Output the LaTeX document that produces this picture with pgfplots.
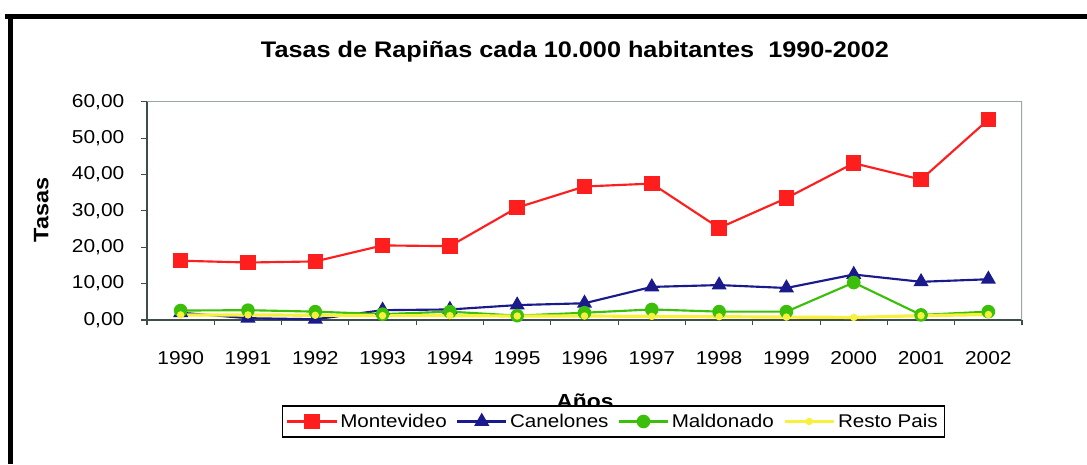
\documentclass[border=0pt]{standalone}
\usepackage{fontspec}
\setmainfont{Liberation Sans}[FakeStretch=1.12]
\usepackage{pgfplots}
\pgfplotsset{compat=1.18}
\definecolor{cMvd}{HTML}{FF1E1E}
\definecolor{cCan}{HTML}{1A1A8C}
\definecolor{cMal}{HTML}{3CBF0A}
\definecolor{cRes}{HTML}{F7F03C}
\definecolor{cFrame}{HTML}{9AA6A6}
\definecolor{cAxis}{HTML}{3E4C4C}

\begin{document}
\begin{tikzpicture}
  \useasboundingbox (0,0) rectangle (815.25pt,348pt);
  % outer frame (only top and left visible)
  \draw[line width=3.75pt] (3.75pt,335.6pt) -- (815.25pt,335.6pt);
  \draw[line width=3.75pt] (7.9pt,337.5pt) -- (7.9pt,0pt);

  \node[font=\bfseries\fontsize{16.9}{20}\selectfont] at (431.25pt,309pt)
    {Tasas de Rapiñas cada 10.000 habitantes\ \ 1990-2002};
  \node[font=\bfseries\fontsize{15.7}{18}\selectfont, rotate=90] at (31pt,190.5pt) {Tasas};
  \node[font=\bfseries\fontsize{15.3}{18}\selectfont, anchor=base] at (438.75pt,42pt) {Años};

  \begin{axis}[
      at={(110.25pt,108pt)}, anchor=south west,
      width=656.25pt, height=163.7pt, scale only axis,
      xmin=-0.5, xmax=12.5, ymin=0, ymax=60,
      xtick={0,...,12},
      xticklabels={1990,1991,1992,1993,1994,1995,1996,1997,1998,1999,2000,2001,2002},
      major x tick style={draw=none},
      minor xtick={-0.5,0.5,...,12.5},
      minor tick length=4pt,
      major tick length=4.5pt,
      tick align=outside,
      ytick={0,10,...,60},
      axis x line*=bottom, axis y line*=left,
      axis line style={cAxis, line width=0.9pt},
      tick style={cAxis, line width=0.8pt},
      /pgf/number format/.cd, fixed, fixed zerofill, precision=2, use comma,
      1000 sep={}, assume math mode=true,
      /pgfplots/.cd,
      ticklabel style={font=\fontsize{14}{16}\selectfont},
      xticklabel style={anchor=base, yshift=-29pt},
      yticklabel style={anchor=east, xshift=-9pt},
      legend style={at={(rel axis cs:0.533,-0.465)}, anchor=center,
        legend columns=4, draw=black, line width=1.2pt, fill=white,
        font=\fontsize{13.8}{16}\selectfont, inner xsep=3pt, inner ysep=4pt,
        nodes={inner sep=2pt},
        /tikz/every even column/.append style={column sep=5pt}},
      legend image code/.code={
        \draw[mark repeat=2,mark phase=2]
          plot coordinates {(0pt,0pt) (18.4pt,0pt) (36.8pt,0pt)};},
    ]
    \draw[cFrame, line width=0.9pt] (rel axis cs:0,1) -- (rel axis cs:1,1) -- (rel axis cs:1,0);

    \addplot[cMvd, line width=1.6pt, mark=square*, mark size=5pt] coordinates {
      (0,16.3) (1,15.8) (2,16.1) (3,20.5) (4,20.3) (5,30.9) (6,36.7)
      (7,37.5) (8,25.3) (9,33.5) (10,43.1) (11,38.6) (12,55.1)};
    \addlegendentry{Montevideo}
    \addplot[cCan, line width=1.6pt, mark=triangle*, mark size=5pt] coordinates {
      (0,2.0) (1,0.5) (2,0.2) (3,2.7) (4,2.9) (5,4.1) (6,4.6)
      (7,9.1) (8,9.6) (9,8.8) (10,12.5) (11,10.5) (12,11.2)};
    \addlegendentry{Canelones}
    \addplot[cMal, line width=1.6pt, mark=*, mark size=4.3pt] coordinates {
      (0,2.6) (1,2.7) (2,2.3) (3,1.6) (4,2.3) (5,1.2) (6,2.0)
      (7,2.9) (8,2.3) (9,2.3) (10,10.3) (11,1.4) (12,2.3)};
    \addlegendentry{Maldonado}
    \addplot[cRes, line width=2.4pt, mark=*, mark size=1.5pt] coordinates {
      (0,1.4) (1,1.4) (2,1.3) (3,1.2) (4,1.2) (5,1.1) (6,1.1)
      (7,1.0) (8,0.9) (9,0.8) (10,0.7) (11,1.2) (12,1.5)};
    \addlegendentry{Resto Pais}
  \end{axis}
\end{tikzpicture}
\end{document}
